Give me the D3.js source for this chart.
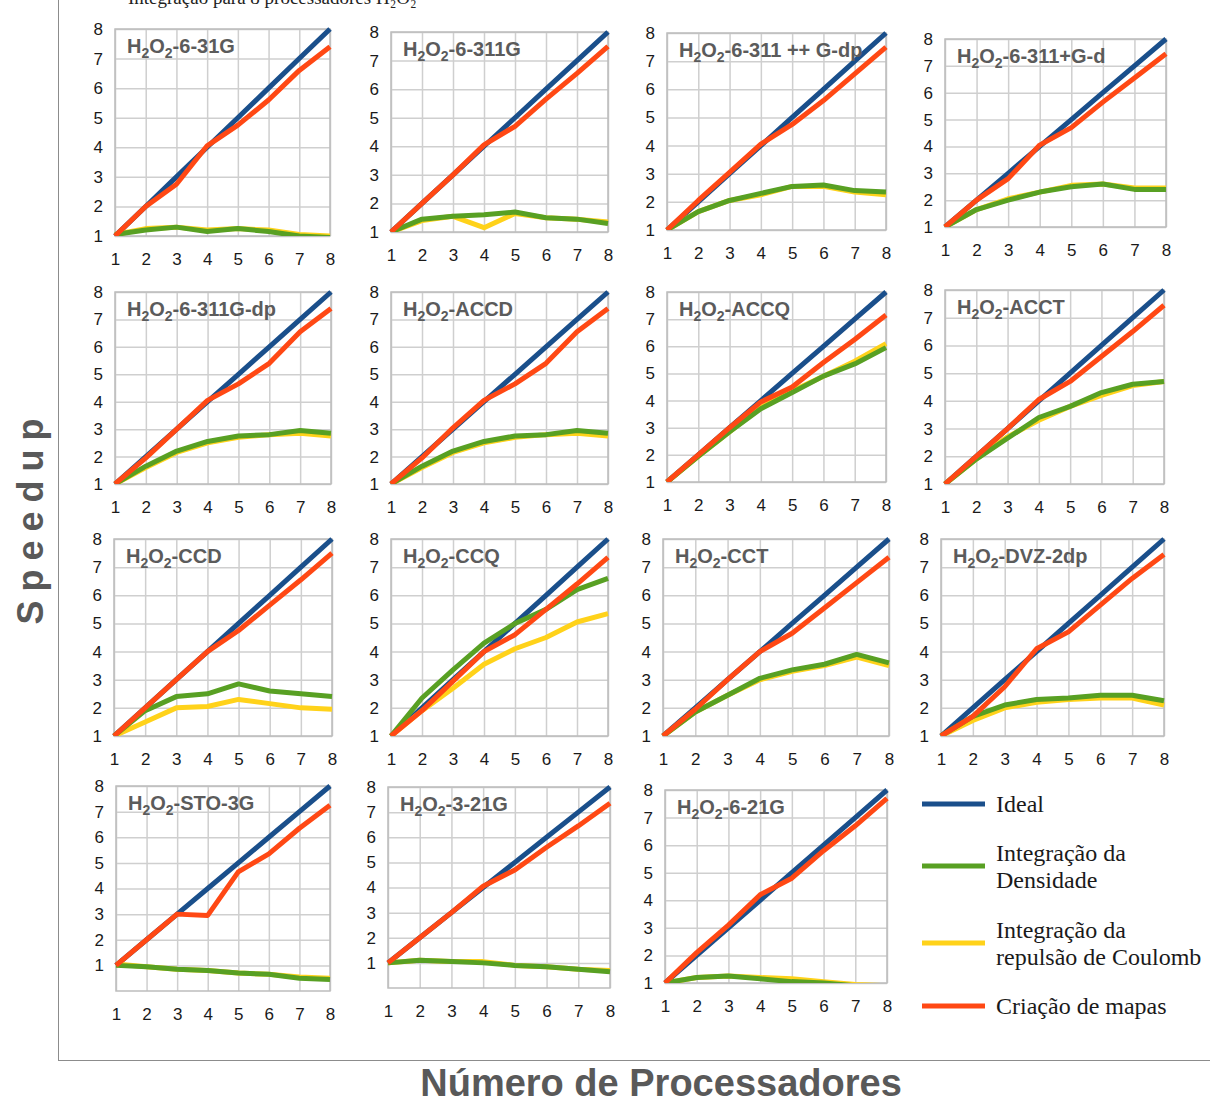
<!DOCTYPE html>
<html>
<head>
<meta charset="utf-8">
<script src="https://cdn.jsdelivr.net/npm/d3@7"></script>
<style>
  body { margin: 0; background: #fff; }
  .tick text { font-family: "Liberation Sans", Arial, sans-serif; font-size: 17px; fill: #1a1a1a; }
  .grid line { stroke: #cfcfcf; stroke-width: 1.5; }
  .grid path { display: none; }
</style>
</head>
<body>
<div id="chart"></div>
<script>
// processors on the x axis
var procs = [1, 2, 3, 4, 5, 6, 7, 8];
var yTicks = [1, 2, 3, 4, 5, 6, 7, 8];

// basis-set names (title shown inside each panel after "H2O2-")
var basis = ["6-31G", "6-311G", "6-311 ++ G-dp", "6-311+G-d",
             "6-311G-dp", "ACCD", "ACCQ", "ACCT",
             "CCD", "CCQ", "CCT", "DVZ-2dp",
             "STO-3G", "3-21G", "6-21G"];

var seriesNames = ["Ideal", "Integração da Densidade", "Integração da repulsão de Coulomb", "Criação de mapas"];

var ideal = [1, 2, 3, 4, 5, 6, 7, 8];

// Integração da Densidade (green)
var densidade = [
  [1.05, 1.2, 1.3, 1.15, 1.25, 1.15, 1.0, 0.95],
  [1, 1.45, 1.55, 1.6, 1.7, 1.5, 1.45, 1.3],
  [1, 1.65, 2.05, 2.3, 2.55, 2.6, 2.4, 2.35],
  [1, 1.65, 2.0, 2.3, 2.5, 2.6, 2.4, 2.4],
  [1, 1.65, 2.2, 2.55, 2.75, 2.8, 2.95, 2.85],
  [1, 1.65, 2.2, 2.55, 2.75, 2.8, 2.95, 2.85],
  [1, 1.95, 2.85, 3.7, 4.3, 4.9, 5.35, 5.95],
  [1, 1.9, 2.65, 3.4, 3.8, 4.3, 4.6, 4.7],
  [1, 1.9, 2.4, 2.5, 2.85, 2.6, 2.5, 2.4],
  [1, 2.35, 3.35, 4.3, 5.0, 5.5, 6.2, 6.6],
  [1, 1.85, 2.45, 3.05, 3.35, 3.55, 3.9, 3.6],
  [1, 1.7, 2.1, 2.3, 2.35, 2.45, 2.45, 2.25],
  [1, 0.95, 0.85, 0.8, 0.7, 0.65, 0.5, 0.45],
  [1, 1.1, 1.05, 1.0, 0.9, 0.85, 0.75, 0.65],
  [1, 1.2, 1.25, 1.15, 1.05, 1.0, 0.9, 0.9]
];

// Integração da repulsão de Coulomb (yellow)
var coulomb = [
  [1.05, 1.25, 1.3, 1.2, 1.25, 1.2, 1.05, 1.0],
  [1, 1.4, 1.55, 1.15, 1.65, 1.5, 1.45, 1.35],
  [1, 1.65, 2.05, 2.25, 2.55, 2.55, 2.35, 2.25],
  [1, 1.65, 2.05, 2.3, 2.55, 2.6, 2.45, 2.45],
  [1, 1.6, 2.15, 2.5, 2.7, 2.8, 2.85, 2.75],
  [1, 1.6, 2.15, 2.5, 2.7, 2.8, 2.85, 2.75],
  [1, 1.95, 2.85, 3.75, 4.35, 4.9, 5.45, 6.1],
  [1, 1.9, 2.7, 3.3, 3.8, 4.2, 4.55, 4.7],
  [1, 1.5, 2.0, 2.05, 2.3, 2.15, 2.0, 1.95],
  [1, 1.9, 2.7, 3.55, 4.1, 4.5, 5.05, 5.35],
  [1, 1.85, 2.45, 3.0, 3.3, 3.5, 3.8, 3.5],
  [1, 1.55, 2.0, 2.2, 2.3, 2.35, 2.35, 2.1],
  [1.05, 0.95, 0.85, 0.8, 0.7, 0.65, 0.55, 0.5],
  [1, 1.1, 1.05, 1.05, 0.9, 0.85, 0.75, 0.7],
  [1, 1.2, 1.25, 1.2, 1.15, 1.05, 0.95, 0.9]
];

// Criação de mapas (red)
var mapas = [
  [1, 2, 2.75, 4.05, 4.75, 5.6, 6.6, 7.4],
  [1, 2, 3, 4.05, 4.7, 5.65, 6.55, 7.5],
  [1, 2.05, 3.05, 4.05, 4.75, 5.6, 6.55, 7.5],
  [1, 2.0, 2.8, 4.05, 4.7, 5.65, 6.55, 7.45],
  [1, 1.95, 3.0, 4.05, 4.65, 5.4, 6.55, 7.4],
  [1, 1.95, 3.05, 4.05, 4.65, 5.4, 6.55, 7.4],
  [1, 2, 3.0, 3.95, 4.5, 5.4, 6.25, 7.15],
  [1, 2.0, 3.0, 4.05, 4.7, 5.6, 6.5, 7.45],
  [1, 2.0, 3.0, 4.0, 4.75, 5.65, 6.55, 7.5],
  [1, 1.9, 2.95, 4.0, 4.6, 5.5, 6.4, 7.35],
  [1, 1.95, 3.0, 4.0, 4.65, 5.55, 6.45, 7.35],
  [1, 1.7, 2.75, 4.1, 4.7, 5.65, 6.6, 7.45],
  [1, 2, 3.0, 2.95, 4.65, 5.35, 6.35, 7.25],
  [1, 2.0, 3.0, 4.05, 4.7, 5.6, 6.45, 7.35],
  [1, 2.1, 3.1, 4.2, 4.8, 5.8, 6.7, 7.7]
];

// y minimum of each panel (last row goes down to 0)
var yMin = [1,1,1,1, 1,1,1,1, 1,1,1,1, 0,0,1];

var colors = ["#1a4f8b", "#58a023", "#ffd21a", "#ff4814"];
// draw order: ideal, coulomb, densidade, mapas
var order = [0, 2, 1, 3];

// plot boxes [left, top, right, bottom]
var boxes = [
  [115, 29, 330, 236], [391, 32, 608, 232], [667, 33, 886, 230], [945, 39, 1166, 227],
  [115, 292, 331, 484], [391, 292, 608, 484], [667, 292, 886, 482], [945, 290, 1164, 484],
  [114, 539, 332, 736], [391, 539, 608, 736], [663, 539, 889, 736], [941, 539, 1164, 736],
  [116, 786, 330, 991], [388, 787, 610, 988], [665, 790, 887, 983]
];

var W = 1210, H = 1104;
var svg = d3.select("#chart").append("svg")
  .attr("width", W).attr("height", H)
  .style("font-family", "Liberation Sans, Arial, sans-serif");

// caption cut by the top edge
svg.append("text")
  .attr("x", 128).attr("y", 4)
  .style("font-family", "Liberation Serif, Times New Roman, serif")
  .style("font-size", "19px").style("fill", "#222")
  .text("Integração para 8 processadores H₂O₂");

// frame lines of the whole figure
svg.append("line").attr("x1", 58.5).attr("x2", 58.5).attr("y1", 0).attr("y2", 1061)
  .attr("stroke", "#8c8c8c").attr("stroke-width", 1);
svg.append("line").attr("x1", 58).attr("x2", 1210).attr("y1", 1060.5).attr("y2", 1060.5)
  .attr("stroke", "#8c8c8c").attr("stroke-width", 1);

var defs = svg.append("defs");
var fmt = d3.format("d");

basis.forEach(function(name, i) {
  var b = boxes[i];
  var w = b[2] - b[0], h = b[3] - b[1];
  var x = d3.scaleLinear().domain([1, 8]).range([0, w]);
  var y = d3.scaleLinear().domain([yMin[i], 8]).range([h, 0]);

  var g = svg.append("g").attr("transform", "translate(" + b[0] + "," + b[1] + ")");

  g.append("g").attr("class", "grid")
    .call(d3.axisLeft(y).tickValues(yTicks).tickSize(-w).tickFormat(""));
  g.append("g").attr("class", "grid")
    .attr("transform", "translate(0," + h + ")")
    .call(d3.axisBottom(x).tickValues(procs).tickSize(-h).tickFormat(""));

  g.append("rect").attr("width", w).attr("height", h)
    .attr("fill", "none").attr("stroke", "#bdbdbd").attr("stroke-width", 1.5);

  var yAx = g.append("g")
    .call(d3.axisLeft(y).tickValues(yTicks).tickFormat(fmt).tickSize(0).tickPadding(12));
  yAx.select(".domain").remove();
  var xAx = g.append("g").attr("transform", "translate(0," + h + ")")
    .call(d3.axisBottom(x).tickValues(procs).tickFormat(fmt).tickSize(0).tickPadding(17));
  xAx.select(".domain").remove();

  defs.append("clipPath").attr("id", "clip" + i)
    .append("rect").attr("x", -3).attr("y", -3).attr("width", w + 6).attr("height", h + 3);

  var line = d3.line().x(function(d, k) { return x(procs[k]); }).y(function(d) { return y(d); });
  var sets = [ideal, densidade[i], coulomb[i], mapas[i]];
  var lg = g.append("g").attr("clip-path", "url(#clip" + i + ")");
  order.forEach(function(s) {
    lg.append("path").datum(sets[s])
      .attr("d", line)
      .attr("fill", "none")
      .attr("stroke", colors[s])
      .attr("stroke-width", 5)
      .attr("stroke-linejoin", "round");
  });

  // panel title H2O2-...
  var t = g.append("text").attr("x", 12).attr("y", 24)
    .style("font-weight", "bold").style("font-size", "20px").style("fill", "#5b5b5b");
  t.append("tspan").text("H");
  t.append("tspan").text("2").attr("dy", 5).style("font-size", "14px");
  t.append("tspan").text("O").attr("dy", -5);
  t.append("tspan").text("2").attr("dy", 5).style("font-size", "14px");
  t.append("tspan").text("-" + name).attr("dy", -5);
});

// legend
var legendRows = [
  {lines: ["Ideal"], y: 804},
  {lines: ["Integração da", "Densidade"], y: 866},
  {lines: ["Integração da", "repulsão de Coulomb"], y: 943},
  {lines: ["Criação de mapas"], y: 1006}
];
var leg = svg.append("g");
legendRows.forEach(function(r, i) {
  leg.append("line").attr("x1", 922).attr("x2", 985).attr("y1", r.y).attr("y2", r.y)
    .attr("stroke", colors[i]).attr("stroke-width", 5);
  var tx = leg.append("text")
    .style("font-family", "Liberation Serif, Times New Roman, serif")
    .style("font-size", "24px").style("fill", "#1a1a1a");
  var y0 = r.y + 8 - (r.lines.length - 1) * 13.5;
  r.lines.forEach(function(l, k) {
    tx.append("tspan").attr("x", 996).attr("y", y0 + k * 27).text(l);
  });
});

// axis titles
svg.append("text")
  .attr("transform", "translate(43,517) rotate(-90)")
  .attr("text-anchor", "middle")
  .style("font-weight", "bold").style("font-size", "36px").style("fill", "#595959")
  .style("letter-spacing", "9px")
  .text("Speedup");

svg.append("text")
  .attr("x", 661).attr("y", 1096)
  .attr("text-anchor", "middle")
  .style("font-weight", "bold").style("font-size", "38px").style("fill", "#595959")
  .text("Número de Processadores");
</script>
</body>
</html>
